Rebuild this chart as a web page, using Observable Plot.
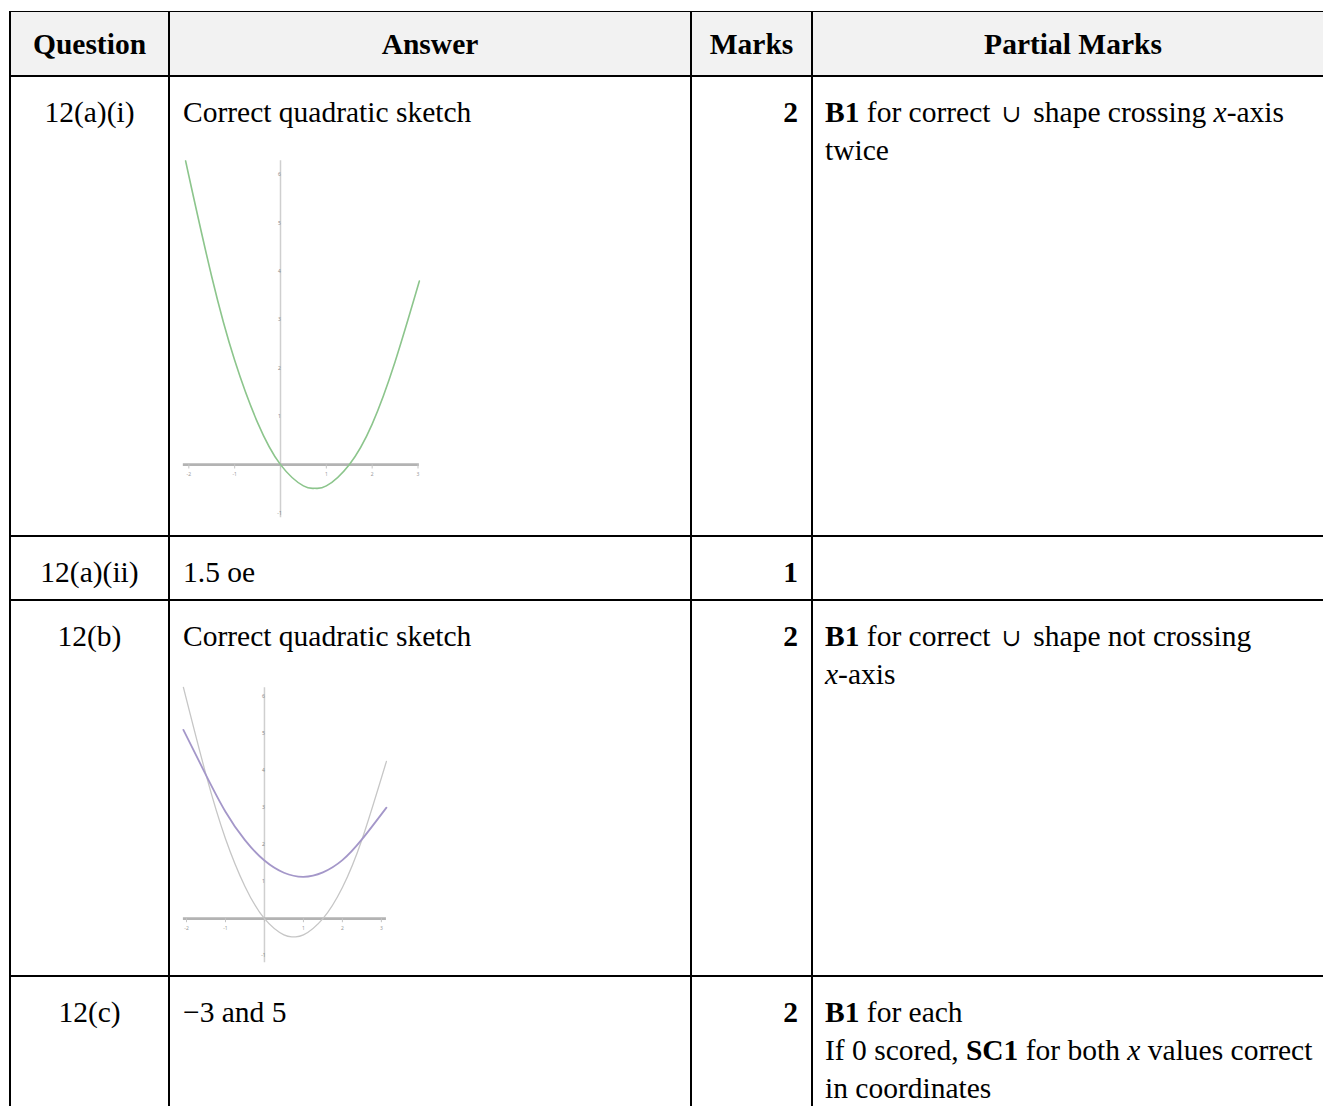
<!DOCTYPE html>
<html>
<head>
<meta charset="utf-8">
<script src="https://cdn.jsdelivr.net/npm/d3@7"></script>
<script src="https://cdn.jsdelivr.net/npm/@observablehq/plot@0.6"></script>
<style>
  html, body { margin:0; padding:0; background:#fff; }
  body { width:1323px; height:1106px; overflow:hidden; position:relative; }
  table { position:absolute; left:9px; top:11px; border-collapse:collapse; table-layout:fixed;
          width:1324px; font-family:"Liberation Serif","Times New Roman",serif; font-size:29.5px;
          line-height:38px; color:#000; }
  th, td { border:2px solid #000; }
  th { background:#f2f2f2; font-weight:bold; text-align:center; vertical-align:middle; padding:0; height:63px; border-top-width:1.5px; }
  td { vertical-align:top; padding:16px 13px 0 13px; white-space:nowrap; }
  td.q { text-align:center; padding-left:2px; padding-right:2px; }
  td.m { text-align:right; font-weight:bold; padding-right:13px; }
  td.p { padding-left:12px; padding-right:4px; }
  .cup { font-family:"DejaVu Serif","Liberation Serif",serif; font-size:24px; line-height:0; padding:0 4px; }
  .sketch { display:block; }
  .sketch svg { display:block; overflow:visible; }
  i { font-style:italic; }
</style>
</head>
<body>
<table>
  <colgroup>
    <col style="width:159px"><col style="width:522px"><col style="width:121px"><col style="width:522px">
  </colgroup>
  <tr><th>Question</th><th>Answer</th><th>Marks</th><th>Partial Marks</th></tr>
  <tr style="height:460px">
    <td class="q">12(a)(i)</td>
    <td>Correct quadratic sketch<div id="sketchA" class="sketch" style="margin-top:24px;margin-left:-2px"></div></td>
    <td class="m">2</td>
    <td class="p"><b>B1</b> for correct <span class="cup">&#8746;</span> shape crossing <i>x</i>-axis<br>twice</td>
  </tr>
  <tr style="height:64px">
    <td class="q">12(a)(ii)</td>
    <td>1.5 oe</td>
    <td class="m">1</td>
    <td class="p"></td>
  </tr>
  <tr style="height:376px">
    <td class="q">12(b)</td>
    <td>Correct quadratic sketch<div id="sketchB" class="sketch" style="margin-top:27px;margin-left:-4px"></div></td>
    <td class="m">2</td>
    <td class="p"><b>B1</b> for correct <span class="cup">&#8746;</span> shape not crossing<br><i>x</i>-axis</td>
  </tr>
  <tr style="height:200px">
    <td class="q">12(c)</td>
    <td>&minus;3 and 5</td>
    <td class="m">2</td>
    <td class="p"><b>B1</b> for each<br>If 0 scored, <b>SC1</b> for both <i>x</i> values correct<br>in coordinates</td>
  </tr>
</table>
<script>
// ---- Sketch 12(a)(i): single quadratic ----
const sketchAX = [-2.05, -2, -1.5, -1, -0.5, 0, 0.5, 0.75, 1, 1.5, 2, 2.5, 3.03];
const sketchAY = [6.2, 5.98, 3.89, 2.16, 0.87, 0, -0.44, -0.49, -0.44, 0, 0.84, 2.13, 3.8];
const sketchAXRange = [-2.12, 3.03];
const sketchAYRange = [-1.1, 6.29];
const sketchAXTicks = [-2, -1, 0, 1, 2, 3];
const sketchAYTicks = [-1, 1, 2, 3, 4, 5, 6];

// ---- Sketch 12(b): original and transformed quadratic ----
const sketchBGreyX = [-2.08, -1.5, -1, -0.5, 0, 0.5, 0.75, 1, 1.5, 2, 2.5, 3.13];
const sketchBGreyY = [6.25, 3.89, 2.16, 0.87, 0, -0.44, -0.49, -0.44, 0, 0.84, 2.13, 4.25];
const sketchBPurpleX = [-2.08, -1.5, -1, -0.5, 0, 0.5, 1, 1.5, 2, 2.5, 3.13];
const sketchBPurpleY = [5.1, 3.88, 2.89, 2.12, 1.57, 1.24, 1.13, 1.25, 1.58, 2.14, 3.0];
const sketchBXRange = [-2.08, 3.13];
const sketchBYRange = [-1.19, 6.24];
const sketchBXTicks = [-2, -1, 0, 1, 2, 3];
const sketchBYTicks = [-1, 1, 2, 3, 4, 5, 6];

function axesMarks(xr, yr, xt, yt, tickLen) {
  return [
    Plot.ruleX([0], {y1: yr[0], y2: yr[1], stroke: "#cfcfcf", strokeWidth: 1.5}),
    Plot.ruleY([0], {x1: xr[0], x2: xr[1], stroke: "#b3b3b3", strokeWidth: 2.6}),
    Plot.ruleX(xt, {x: d => d, y1: 0, y2: -tickLen, stroke: "#c4c4c4", strokeWidth: 1}),
    Plot.text(xt.filter(d => d !== 0), {x: d => d, y: 0, text: d => String(d), dy: 10, fontSize: 5, fill: "#9a9a9a"}),
    Plot.text(yt, {x: 0, y: d => d, text: d => String(d), dx: -1, fontSize: 5, fill: "#8a8a8a"})
  ];
}

const plotA = Plot.plot({
  width: 242, height: 370, margin: 0,
  x: {domain: [-2.16, 3.12], axis: null},
  y: {domain: [-1.26, 6.40], axis: null},
  marks: [
    ...axesMarks(sketchAXRange, sketchAYRange, sketchAXTicks, sketchAYTicks, 0.09),
    Plot.line(sketchAY, {x: sketchAX, y: sketchAY, curve: "natural", stroke: "#8cc58c", strokeWidth: 1.6})
  ]
});
document.getElementById("sketchA").appendChild(plotA);

const plotB = Plot.plot({
  width: 212, height: 285, margin: 0,
  x: {domain: [-2.18, 3.26], axis: null},
  y: {domain: [-1.32, 6.38], axis: null},
  marks: [
    ...axesMarks(sketchBXRange, sketchBYRange, sketchBXTicks, sketchBYTicks, 0.11),
    Plot.line(sketchBGreyY, {x: sketchBGreyX, y: sketchBGreyY, curve: "natural", stroke: "#c6c6c6", strokeWidth: 1.3}),
    Plot.line(sketchBPurpleY, {x: sketchBPurpleX, y: sketchBPurpleY, curve: "natural", stroke: "#a497c9", strokeWidth: 1.8})
  ]
});
document.getElementById("sketchB").appendChild(plotB);
</script>
</body>
</html>
